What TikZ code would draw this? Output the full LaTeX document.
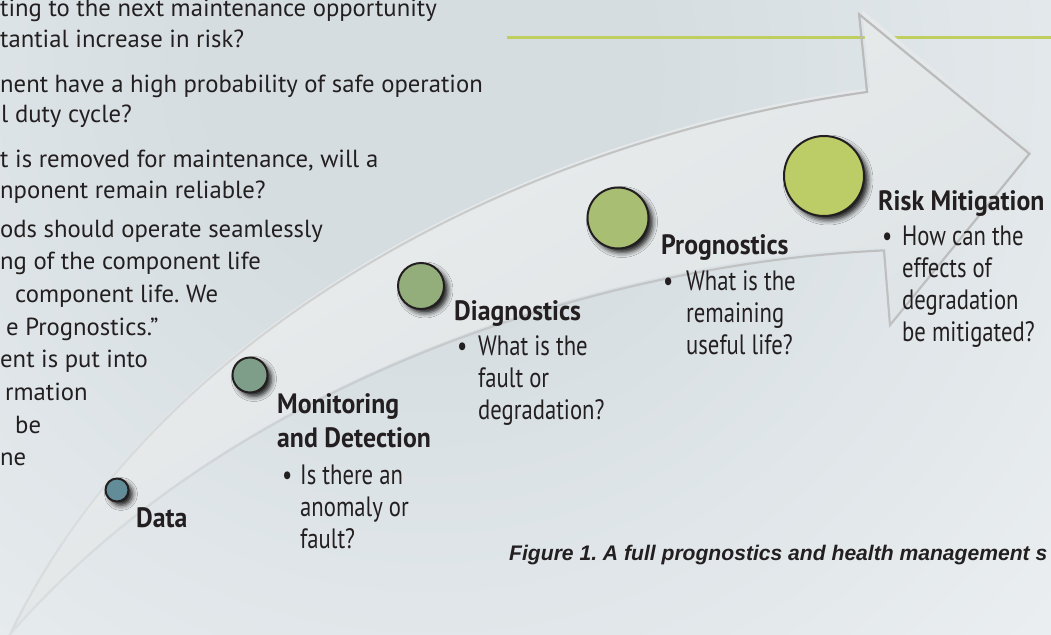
\documentclass[tikz,border=0pt]{standalone}
\usepackage{fontspec}
\setmainfont{PT Sans}
\newfontfamily\bodyfam{PT Sans}[FakeStretch=0.81]
\newfontfamily\headfam{PT Sans}[FakeStretch=0.92]
\newfontfamily\capfam{Liberation Sans}
\usetikzlibrary{shadows.blur,fadings}
\frenchspacing

\definecolor{ink}{HTML}{231F20}
\definecolor{bgtone}{HTML}{D5DDE1}
\definecolor{arrowhead}{HTML}{D9E0E3}
\definecolor{arrowtail}{HTML}{EEEFEF}
\definecolor{rim}{HTML}{BBBBBB}
\definecolor{lime}{HTML}{BFCF5F}
\definecolor{cData}{HTML}{638C99}
\definecolor{cMon}{HTML}{7E9E89}
\definecolor{cDiag}{HTML}{93AE7B}
\definecolor{cProg}{HTML}{A8BE73}
\definecolor{cRisk}{HTML}{BCCC67}

% soft backdrop, darkest towards the upper middle
\pgfdeclareradialshading{backdrop}{\pgfpoint{0bp}{0bp}}%
  {color(0bp)=(bgtone); color(6bp)=(bgtone); color(40bp)=(white); color(50bp)=(white)}
% outline of the big arrow fades out towards its tail
\tikzfading[name=tailfade, left color=transparent!75, right color=transparent!0]

% the curved arrow (pixel-like units, y pointing down)
\newcommand{\bigarrowpath}{(10,632) .. controls (150,340) and (500,140) .. (870,88)
  -- (862,10) -- (1033,150) -- (893,322) -- (887,247)
  .. controls (600,260) and (230,380) .. (10,632) -- cycle}

\tikzset{
  stage/.style={circle, draw=ink, line width=2pt, inner sep=0pt,
    blur shadow={shadow xshift=4pt, shadow yshift=-4pt,
      shadow blur radius=5pt, shadow opacity=90}},
  heading/.style={anchor=base west, inner sep=0pt, text=ink,
    font=\headfam\bfseries\fontsize{28}{34}\selectfont},
  body/.style={anchor=base west, inner sep=0pt, text=ink,
    font=\bodyfam\fontsize{28}{32}\selectfont},
  lead/.style={anchor=base west, inner sep=0pt, text=ink,
    font=\fontsize{24.7}{31}\selectfont},
  caption/.style={anchor=base west, inner sep=0pt, text=ink,
    font=\capfam\bfseries\itshape\fontsize{21.1}{25}\selectfont},
}

\begin{document}
\begin{tikzpicture}[x=1pt, y=-1pt]
\useasboundingbox (0,0) rectangle (1051,634);
\clip (0,0) rectangle (1051,634);

% background
\fill[white] (0,0) rectangle (1051,634);
\shade[shading=backdrop] (430,70) circle[radius=900];

% green rule behind the arrow
\draw[lime, line width=3pt] (507,38) -- (1051,38);

% the arrow
\shade[left color=arrowtail, right color=arrowhead, shading angle=30] \bigarrowpath;
\draw[rim, line width=2.2pt, path fading=tailfade, fading angle=30] \bigarrowpath;

% text on the left
\node[lead] (para1) at (0,17) {\parbox[t]{600pt}{\raggedright\baselineskip=31pt
  ting to the next maintenance opportunity\\
  tantial increase in risk?}};
\node[lead] (para2) at (0,92) {\parbox[t]{600pt}{\raggedright
  nent have a high probability of safe operation\\
  \hspace*{1pt}l duty cycle?}};
\node[lead] (para3) at (0,167) {\parbox[t]{600pt}{\raggedright
  t is removed for maintenance, will a\\
  nponent remain reliable?}};
\node[lead] (para4) at (0,237) {\parbox[t]{600pt}{\raggedright\baselineskip=32.7pt
  ods should operate seamlessly\\
  ng of the component life\\
  \hspace*{15pt}component life. We\\
  \hspace*{6pt}e Prognostics.”\\
  ent is put into\\
  \hspace*{5pt}rmation\\
  \hspace*{15pt}be\\
  ne}};

% stages
\node[stage, fill=cData, minimum size=23pt] (data) at (117,490) {};
\node[stage, fill=cMon,  minimum size=35pt] (mon)  at (250,375) {};
\node[stage, fill=cDiag, minimum size=46pt] (diag) at (421,286) {};
\node[stage, fill=cProg, minimum size=61pt] (prog) at (618,218) {};
\node[stage, fill=cRisk, minimum size=80pt] (risk) at (824,176) {};

% labels
\node[heading] (dataLabel) at (136,527) {Data};

\node[heading] (monLabel) at (277,413) {\parbox[t]{220pt}{\raggedright
  Monitoring\\and Detection}};
\node[body] (monDot) at (282,484) {\textbullet};
\node[body] (monText) at (300,484) {\parbox[t]{200pt}{\raggedright
  Is there an\\anomaly or\\fault?}};

\node[heading] (diagLabel) at (454,320) {Diagnostics};
\node[body] (diagDot) at (457,355) {\textbullet};
\node[body] (diagText) at (478,355) {\parbox[t]{200pt}{\raggedright
  What is the\\fault or\\degradation?}};

\node[heading] (progLabel) at (661,254) {Prognostics};
\node[body] (progDot) at (663,290) {\textbullet};
\node[body] (progText) at (686,290) {\parbox[t]{200pt}{\raggedright
  What is the\\remaining\\useful life?}};

\node[heading] (riskLabel) at (878,210) {Risk Mitigation};
\node[body] (riskDot) at (882,245) {\textbullet};
\node[body] (riskText) at (902,245) {\parbox[t]{200pt}{\raggedright
  How can the\\effects of\\degradation\\be mitigated?}};

% caption
\node[caption] (figCaption) at (509,560)
  {Figure 1. A full prognostics and health management s};
\end{tikzpicture}
\end{document}
